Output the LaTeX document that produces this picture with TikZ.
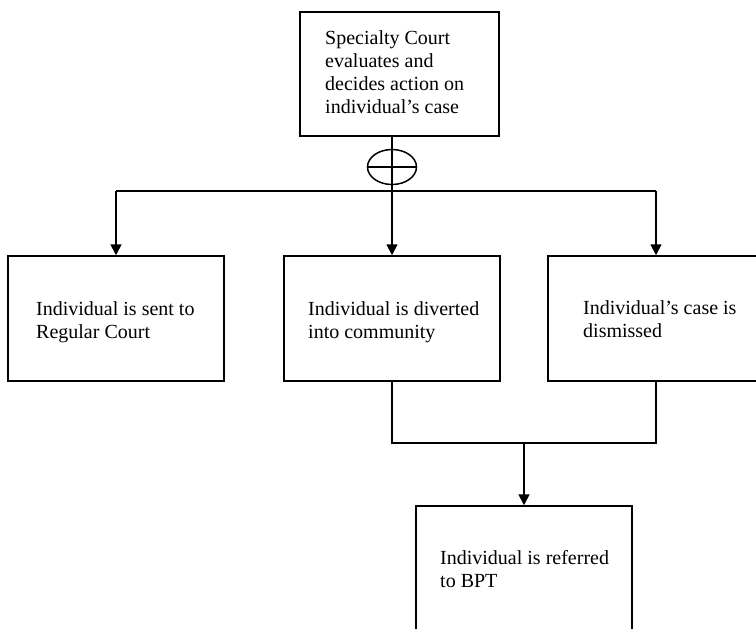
\documentclass[tikz,border=0pt]{standalone}
\usepackage{fontspec}
\setmainfont{Liberation Serif}
\usetikzlibrary{arrows.meta,shapes.geometric}
\tikzset{
  box/.style={draw, line width=1.5pt, rectangle, inner sep=0pt},
  txt/.style={anchor=base west, align=left, inner sep=0pt, font=\fontsize{20}{23}\selectfont},
  conn/.style={line width=1.7pt},
  arr/.style={line width=1.7pt, -{Triangle[width=11pt,length=11pt]}},
}
\begin{document}
\begin{tikzpicture}[x=1pt,y=-1pt]
\clip (0,0) rectangle (756,629);
\fill[white] (0,0) rectangle (756,629);
% boxes
\node[box, minimum width=199pt, minimum height=124pt] (top) at (399.5,74) {};
\node[box, minimum width=216pt, minimum height=125pt] (left) at (116,318.5) {};
\node[box, minimum width=216pt, minimum height=125pt] (mid) at (392,318.5) {};
\node[box, minimum width=212pt, minimum height=125pt] (right) at (654,318.5) {};
\node[box, minimum width=216pt, minimum height=140pt] (bot) at (524,576) {};
% texts (anchored at baseline of last line)
\node[txt] (ttop) at (325,113) {Specialty Court\\evaluates and\\decides action on\\individual’s case};
\node[txt] (tleft) at (36,338) {Individual is sent to\\Regular Court};
\node[txt] (tmid) at (308,338) {Individual is diverted\\into community};
\node[txt] (tright) at (583,337) {Individual’s case is\\dismissed};
\node[txt] (tbot) at (440,587) {Individual is referred\\to BPT};
% xor
\node[draw, line width=1.5pt, ellipse, minimum width=49pt, minimum height=35pt, inner sep=0pt] (xor) at (392,167) {};
\draw[line width=1.5pt] (xor.west) -- (xor.east);
% connectors
\coordinate (jn) at (392,191);
\coordinate (rx) at (656,0);
\draw[arr] (top.south -| mid.north) -- (mid.north);
\draw[conn] (left.north |- jn) -- (rx |- jn);
\draw[arr] (left.north |- jn) -- (left.north);
\draw[arr] (rx |- jn) -- (rx |- right.north);
\coordinate (jb) at (524,443);
\draw[conn] (mid.south -| jn) -- (jn |- jb) -- (rx |- jb) -- (rx |- right.south);
\draw[arr] (jb) -- (bot.north);
\end{tikzpicture}
\end{document}
